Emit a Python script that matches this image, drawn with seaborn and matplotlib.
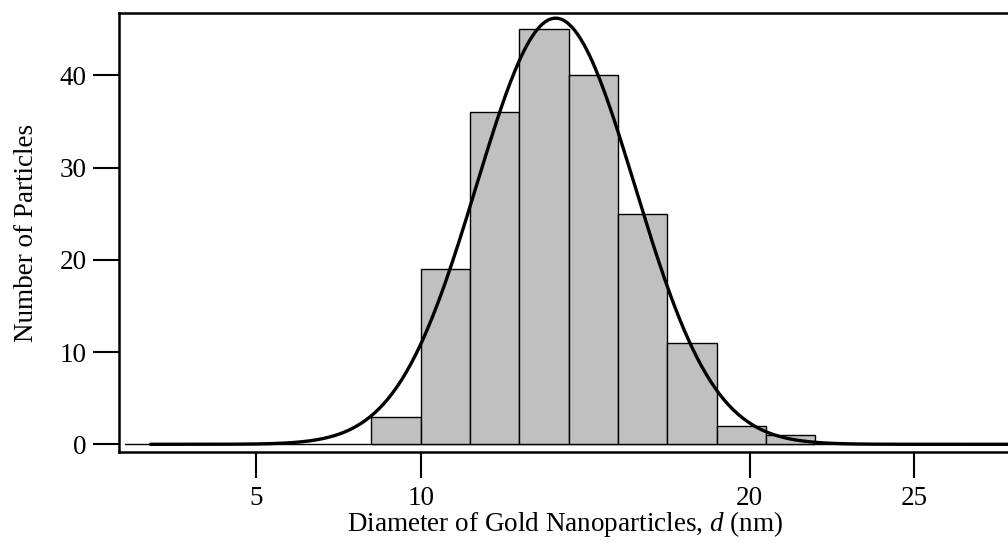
import numpy as np
import pandas as pd
import matplotlib
matplotlib.use("Agg")
import matplotlib.pyplot as plt
import seaborn as sns

# Histogram data (bin edges in nm, counts)
bin_edges = [8.5, 10.0, 11.5, 13.0, 14.5, 16.0, 17.5, 19.0, 20.5, 22.0]
counts = [3, 19, 36, 45, 40, 25, 11, 2, 1]

# Gaussian fit parameters
fit_amplitude = 46.2
fit_center = 14.1
fit_sigma = 2.41
fit_range = [1.78, 29.0]

x_ticks = [5, 10, 20, 25]
y_ticks = [0, 10, 20, 30, 40]

sns.set_theme(style="white")
plt.rcParams['font.family'] = ['Liberation Serif', 'DejaVu Serif']
plt.rcParams['mathtext.fontset'] = 'custom'
plt.rcParams['mathtext.it'] = 'Liberation Serif:italic'
plt.rcParams['mathtext.rm'] = 'Liberation Serif'

fig = plt.figure(figsize=(10.08, 5.5), dpi=100)
ax = fig.add_axes([0.118, 0.1776, 0.885, 0.977 - 0.1776])

centers = [(a + b) / 2 for a, b in zip(bin_edges[:-1], bin_edges[1:])]
df = pd.DataFrame({"d": centers, "n": counts})

ax.plot([1.0, 29], [0, 0], color="black", lw=1.0, zorder=1)

sns.histplot(data=df, x="d", weights="n", bins=bin_edges, ax=ax,
             color="#c0c0c0", edgecolor="black", linewidth=1.0, alpha=1.0, zorder=2)

xs = np.linspace(fit_range[0], fit_range[1], 600)
ys = fit_amplitude * np.exp(-0.5 * ((xs - fit_center) / fit_sigma) ** 2)
sns.lineplot(x=xs, y=ys, ax=ax, color="black", lw=2.4, zorder=3)

ax.set_xlim(0.82, 27.95)
ax.set_ylim(-0.87, 46.8)
ax.set_xticks(x_ticks)
ax.set_yticks(y_ticks)
ax.tick_params(axis="both", direction="out", length=19, width=1.5,
               labelsize=19.5, colors="black", pad=4, bottom=True, left=True)
ax.tick_params(axis="x", pad=5)
for side in ["left", "top", "bottom"]:
    ax.spines[side].set_visible(True)
    ax.spines[side].set_linewidth(1.8)
    ax.spines[side].set_color("black")
ax.spines["right"].set_visible(False)
ax.grid(False)

ax.set_xlabel(r"Diameter of Gold Nanoparticles, $d$ (nm)", fontsize=19.5, color="black", labelpad=-1)
ax.set_ylabel("Number of Particles", fontsize=19.5, color="black", labelpad=15)

fig.savefig("out.png", dpi=100)
